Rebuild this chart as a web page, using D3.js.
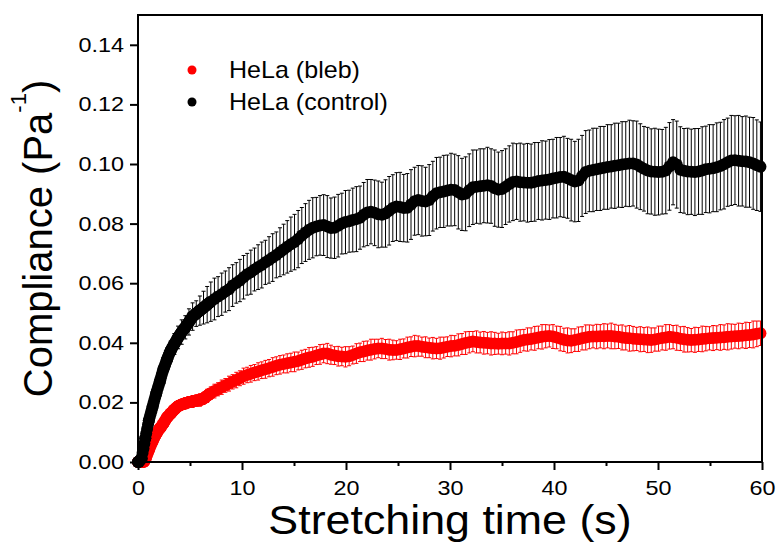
<!DOCTYPE html>
<html>
<head>
<meta charset="utf-8">
<script src="https://cdn.jsdelivr.net/npm/d3@7"></script>
<style>
  body { margin: 0; background: #fff; }
  text { font-family: Arial, "Liberation Sans", sans-serif; fill: #000; }
</style>
</head>
<body>
<div id="chart"></div>
<script>
"use strict";

// compliance (1/Pa) vs stretching time, one sample (with error bar) every 0.35 s
const timeStep = 0.35;
// the first 7 s are sampled more densely (symbols only)
const earlyStep = 0.0875;

const blebMean = [
  0, 0, 0.0008, 0.0040, 0.0070, 0.0094, 0.0113, 0.0130, 0.0150, 0.0163, 0.0176, 0.0187,
  0.0193, 0.0197, 0.0201, 0.0203, 0.0206, 0.0208, 0.0213, 0.0222, 0.0231, 0.0238, 0.0244, 0.0251,
  0.0257, 0.0263, 0.0269, 0.0275, 0.0281, 0.0288, 0.0292, 0.0296, 0.0300, 0.0304, 0.0308, 0.0311,
  0.0315, 0.0319, 0.0323, 0.0326, 0.0329, 0.0331, 0.0334, 0.0336, 0.0339, 0.0343, 0.0347, 0.0351,
  0.0353, 0.0357, 0.0361, 0.0364, 0.0364, 0.0360, 0.0357, 0.0355, 0.0354, 0.0353, 0.0355, 0.0359,
  0.0364, 0.0368, 0.0371, 0.0374, 0.0377, 0.0379, 0.0381, 0.0381, 0.0379, 0.0377, 0.0376, 0.0376,
  0.0378, 0.0381, 0.0384, 0.0387, 0.0389, 0.0389, 0.0387, 0.0385, 0.0383, 0.0382, 0.0381, 0.0382,
  0.0384, 0.0387, 0.0389, 0.0390, 0.0393, 0.0396, 0.0399, 0.0402, 0.0404, 0.0403, 0.0401, 0.0400,
  0.0399, 0.0398, 0.0398, 0.0397, 0.0398, 0.0398, 0.0398, 0.0400, 0.0403, 0.0406, 0.0409, 0.0411,
  0.0413, 0.0415, 0.0418, 0.0420, 0.0422, 0.0423, 0.0421, 0.0418, 0.0414, 0.0410, 0.0408, 0.0407,
  0.0409, 0.0412, 0.0415, 0.0418, 0.0420, 0.0421, 0.0421, 0.0422, 0.0422, 0.0423, 0.0423, 0.0421,
  0.0420, 0.0418, 0.0416, 0.0415, 0.0414, 0.0413, 0.0412, 0.0411, 0.0410, 0.0409, 0.0411, 0.0414,
  0.0416, 0.0418, 0.0420, 0.0419, 0.0417, 0.0414, 0.0412, 0.0410, 0.0409, 0.0410, 0.0411, 0.0413,
  0.0414, 0.0415, 0.0416, 0.0417, 0.0418, 0.0419, 0.0420, 0.0421, 0.0422, 0.0423, 0.0424, 0.0425,
  0.0426, 0.0428, 0.0430, 0.0432
];
const blebErr = [
  0, 0, 0.0005, 0.0010, 0.0013, 0.0015, 0.0014, 0.0016, 0.0015, 0.0017, 0.0016, 0.0018,
  0.0017, 0.0019, 0.0018, 0.0020, 0.0019, 0.0021, 0.0020, 0.0022, 0.0021, 0.0023, 0.0022, 0.0024,
  0.0023, 0.0025, 0.0024, 0.0026, 0.0025, 0.0027, 0.0026, 0.0028, 0.0027, 0.0029, 0.0028, 0.0030,
  0.0029, 0.0031, 0.0030, 0.0031, 0.0030, 0.0032, 0.0031, 0.0033, 0.0030, 0.0032, 0.0031, 0.0033,
  0.0032, 0.0030, 0.0033, 0.0031, 0.0034, 0.0032, 0.0030, 0.0033, 0.0031, 0.0034, 0.0032, 0.0030,
  0.0033, 0.0031, 0.0034, 0.0032, 0.0035, 0.0033, 0.0031, 0.0034, 0.0032, 0.0035, 0.0033, 0.0031,
  0.0034, 0.0032, 0.0035, 0.0033, 0.0036, 0.0034, 0.0032, 0.0035, 0.0033, 0.0036, 0.0034, 0.0037,
  0.0035, 0.0033, 0.0036, 0.0034, 0.0037, 0.0035, 0.0038, 0.0036, 0.0034, 0.0037, 0.0035, 0.0038,
  0.0036, 0.0039, 0.0037, 0.0035, 0.0038, 0.0036, 0.0039, 0.0037, 0.0040, 0.0038, 0.0036, 0.0039,
  0.0037, 0.0040, 0.0038, 0.0041, 0.0039, 0.0037, 0.0040, 0.0038, 0.0041, 0.0039, 0.0042, 0.0040,
  0.0038, 0.0041, 0.0039, 0.0042, 0.0040, 0.0038, 0.0041, 0.0039, 0.0042, 0.0040, 0.0043, 0.0041,
  0.0039, 0.0042, 0.0040, 0.0043, 0.0041, 0.0039, 0.0042, 0.0040, 0.0043, 0.0041, 0.0039, 0.0042,
  0.0040, 0.0043, 0.0041, 0.0039, 0.0042, 0.0040, 0.0043, 0.0041, 0.0039, 0.0042, 0.0040, 0.0043,
  0.0041, 0.0039, 0.0042, 0.0040, 0.0043, 0.0041, 0.0044, 0.0042, 0.0040, 0.0043, 0.0041, 0.0044,
  0.0042, 0.0045, 0.0043, 0.0041
];
const blebEarly = [
  0, 0, 0, 0, 0, 0, 0, 0.0002, 0.0008, 0.0015,
  0.0024, 0.0032, 0.0040, 0.0048, 0.0055, 0.0063, 0.0070, 0.0076, 0.0082, 0.0088,
  0.0094, 0.0099, 0.0104, 0.0109, 0.0113, 0.0117, 0.0121, 0.0126, 0.0130, 0.0135,
  0.0140, 0.0145, 0.0150, 0.0153, 0.0157, 0.0160, 0.0163, 0.0166, 0.0170, 0.0173,
  0.0176, 0.0179, 0.0182, 0.0185, 0.0187, 0.0189, 0.0190, 0.0192, 0.0193, 0.0194,
  0.0195, 0.0196, 0.0197, 0.0198, 0.0199, 0.0200, 0.0201, 0.0201, 0.0202, 0.0202,
  0.0203, 0.0204, 0.0205, 0.0205, 0.0206, 0.0206, 0.0207, 0.0207, 0.0208, 0.0209,
  0.0210, 0.0212, 0.0213, 0.0215, 0.0217, 0.0220, 0.0222, 0.0224, 0.0227, 0.0229
];

const controlMean = [
  0, 0.0012, 0.0080, 0.0140, 0.0185, 0.0230, 0.0270, 0.0312, 0.0345, 0.0375, 0.0396, 0.0418,
  0.0436, 0.0452, 0.0470, 0.0488, 0.0498, 0.0508, 0.0518, 0.0528, 0.0538, 0.0547, 0.0555, 0.0563,
  0.0572, 0.0580, 0.0592, 0.0601, 0.0609, 0.0620, 0.0630, 0.0637, 0.0646, 0.0654, 0.0661, 0.0670,
  0.0678, 0.0686, 0.0695, 0.0704, 0.0713, 0.0722, 0.0731, 0.0738, 0.0748, 0.0760, 0.0770, 0.0779,
  0.0786, 0.0790, 0.0794, 0.0795, 0.0790, 0.0785, 0.0786, 0.0793, 0.0800, 0.0805, 0.0808, 0.0812,
  0.0815, 0.0820, 0.0830, 0.0837, 0.0840, 0.0836, 0.0831, 0.0830, 0.0834, 0.0843, 0.0852, 0.0857,
  0.0856, 0.0852, 0.0853, 0.0864, 0.0875, 0.0879, 0.0876, 0.0874, 0.0879, 0.0892, 0.0902, 0.0905,
  0.0908, 0.0911, 0.0914, 0.0913, 0.0905, 0.0898, 0.0900, 0.0912, 0.0922, 0.0924, 0.0925, 0.0927,
  0.0929, 0.0926, 0.0919, 0.0914, 0.0916, 0.0924, 0.0933, 0.0940, 0.0941, 0.0939, 0.0938, 0.0937,
  0.0937, 0.0940, 0.0943, 0.0945, 0.0946, 0.0948, 0.0951, 0.0954, 0.0956, 0.0957, 0.0952, 0.0946,
  0.0941, 0.0945, 0.0960, 0.0973, 0.0977, 0.0980, 0.0982, 0.0985, 0.0987, 0.0990, 0.0992, 0.0994,
  0.0996, 0.0998, 0.1000, 0.1002, 0.1002, 0.0998, 0.0991, 0.0984, 0.0978, 0.0975, 0.0974, 0.0973,
  0.0974, 0.0978, 0.0992, 0.1006, 0.0998, 0.0981, 0.0977, 0.0975, 0.0974, 0.0973, 0.0975, 0.0978,
  0.0982, 0.0984, 0.0986, 0.0989, 0.0993, 0.0999, 0.1006, 0.1012, 0.1013, 0.1011, 0.1009, 0.1008,
  0.1006, 0.1002, 0.0996, 0.0991
];
const controlErr = [
  0, 0.0005, 0.0010, 0.0012, 0.0015, 0.0018, 0.0020, 0.0024, 0.0028, 0.0031, 0.0035, 0.0038,
  0.0041, 0.0039, 0.0044, 0.0046, 0.0043, 0.0049, 0.0055, 0.0061, 0.0066, 0.0070, 0.0067, 0.0071,
  0.0069, 0.0072, 0.0070, 0.0068, 0.0071, 0.0073, 0.0070, 0.0074, 0.0072, 0.0075, 0.0077, 0.0074,
  0.0078, 0.0080, 0.0077, 0.0082, 0.0085, 0.0088, 0.0091, 0.0093, 0.0096, 0.0094, 0.0097, 0.0099,
  0.0101, 0.0098, 0.0100, 0.0102, 0.0104, 0.0101, 0.0103, 0.0105, 0.0102, 0.0106, 0.0104, 0.0107,
  0.0109, 0.0106, 0.0108, 0.0111, 0.0108, 0.0110, 0.0112, 0.0109, 0.0113, 0.0115, 0.0112, 0.0114,
  0.0116, 0.0113, 0.0115, 0.0117, 0.0114, 0.0116, 0.0118, 0.0115, 0.0119, 0.0117, 0.0120, 0.0118,
  0.0121, 0.0119, 0.0122, 0.0120, 0.0123, 0.0121, 0.0124, 0.0122, 0.0125, 0.0123, 0.0126, 0.0124,
  0.0127, 0.0125, 0.0128, 0.0126, 0.0129, 0.0127, 0.0128, 0.0130, 0.0127, 0.0131, 0.0129, 0.0132,
  0.0130, 0.0132, 0.0129, 0.0133, 0.0131, 0.0134, 0.0132, 0.0135, 0.0133, 0.0136, 0.0134, 0.0137,
  0.0135, 0.0138, 0.0136, 0.0139, 0.0137, 0.0140, 0.0138, 0.0141, 0.0139, 0.0142, 0.0140, 0.0143,
  0.0141, 0.0144, 0.0142, 0.0145, 0.0143, 0.0146, 0.0144, 0.0142, 0.0145, 0.0143, 0.0146, 0.0144,
  0.0142, 0.0145, 0.0147, 0.0143, 0.0146, 0.0144, 0.0142, 0.0145, 0.0143, 0.0146, 0.0144, 0.0147,
  0.0145, 0.0148, 0.0146, 0.0149, 0.0147, 0.0150, 0.0148, 0.0151, 0.0149, 0.0152, 0.0150, 0.0153,
  0.0151, 0.0154, 0.0152, 0.0150
];
const controlEarly = [
  0, 0, 0.0004, 0.0009, 0.0012, 0.0030, 0.0045, 0.0062, 0.0080, 0.0096,
  0.0111, 0.0126, 0.0140, 0.0152, 0.0163, 0.0174, 0.0185, 0.0197, 0.0208, 0.0219,
  0.0230, 0.0241, 0.0251, 0.0260, 0.0270, 0.0281, 0.0292, 0.0302, 0.0312, 0.0320,
  0.0328, 0.0337, 0.0345, 0.0353, 0.0361, 0.0368, 0.0375, 0.0380, 0.0386, 0.0391,
  0.0396, 0.0402, 0.0407, 0.0413, 0.0418, 0.0423, 0.0427, 0.0432, 0.0436, 0.0440,
  0.0444, 0.0448, 0.0452, 0.0457, 0.0461, 0.0466, 0.0470, 0.0475, 0.0479, 0.0484,
  0.0488, 0.0491, 0.0493, 0.0496, 0.0498, 0.0501, 0.0503, 0.0506, 0.0508, 0.0511,
  0.0513, 0.0516, 0.0518, 0.0521, 0.0523, 0.0526, 0.0528, 0.0531, 0.0533, 0.0536
];

const seriesNames = ["HeLa (bleb)", "HeLa (control)"];
const xTicks = [0, 10, 20, 30, 40, 50, 60];
const xMinorTicks = [5, 15, 25, 35, 45, 55];
const yTicks = [0, 0.02, 0.04, 0.06, 0.08, 0.10, 0.12, 0.14];

const svgWidth = 776, svgHeight = 546;
const margin = { top: 15, right: 14, bottom: 84, left: 138 };

const svg = d3.select("#chart")
  .append("svg")
  .attr("width", svgWidth)
  .attr("height", svgHeight);

const xScale = d3.scaleLinear().domain([0, 60]).range([margin.left, svgWidth - margin.right]);
const yScale = d3.scaleLinear().domain([0, 0.15]).range([svgHeight - margin.bottom, margin.top]);

const series = [
  { name: seriesNames[0], color: "#ff0000", mean: blebMean, err: blebErr, early: blebEarly },
  { name: seriesNames[1], color: "#000000", mean: controlMean, err: controlErr, early: controlEarly }
];

// error bars + symbols, bleb first so control sits on top
series.forEach(s => {
  const pts = s.mean.map((m, i) => ({ t: i * timeStep, m: m, e: s.err[i] }));
  const earlyPts = s.early.map((m, i) => ({ t: i * earlyStep, m: m }));
  const g = svg.append("g");
  const bars = g.selectAll(".bar")
    .data(pts.filter(d => d.e > 0))
    .enter()
    .append("g")
    .attr("stroke", s.color)
    .attr("stroke-width", 1);
  bars.append("line")
    .attr("x1", d => xScale(d.t)).attr("x2", d => xScale(d.t))
    .attr("y1", d => yScale(d.m - d.e)).attr("y2", d => yScale(d.m + d.e));
  bars.append("line")
    .attr("x1", d => xScale(d.t) - 2).attr("x2", d => xScale(d.t) + 2)
    .attr("y1", d => yScale(d.m + d.e)).attr("y2", d => yScale(d.m + d.e));
  bars.append("line")
    .attr("x1", d => xScale(d.t) - 2).attr("x2", d => xScale(d.t) + 2)
    .attr("y1", d => yScale(d.m - d.e)).attr("y2", d => yScale(d.m - d.e));

  g.selectAll("circle")
    .data(earlyPts.concat(pts))
    .enter()
    .append("circle")
    .attr("cx", d => xScale(d.t))
    .attr("cy", d => yScale(d.m))
    .attr("r", 6)
    .attr("fill", s.color);
});

// axes
const plotBottom = svgHeight - margin.bottom;
const xAxis = d3.axisBottom(xScale).tickValues(xTicks).tickSize(8).tickPadding(11).tickFormat(d3.format("d"));
const xMinor = d3.axisBottom(xScale).tickValues(xMinorTicks).tickSize(4).tickFormat("");
const yAxis = d3.axisLeft(yScale).tickValues(yTicks).tickSize(8).tickPadding(4).tickFormat(d3.format(".2f"));

const gx = svg.append("g").attr("transform", `translate(0, ${plotBottom})`).call(xAxis);
const gxm = svg.append("g").attr("transform", `translate(0, ${plotBottom})`).call(xMinor);
const gy = svg.append("g").attr("transform", `translate(${margin.left}, 0)`).call(yAxis);

[gx, gxm, gy].forEach(g => {
  g.select(".domain").remove();
  g.selectAll("line").attr("stroke", "#000").attr("stroke-width", 2);
  g.selectAll("text")
    .attr("font-size", 20)
    .attr("font-family", "Arial, 'Liberation Sans', sans-serif")
    .attr("fill", "#000")
    .attr("transform", "scale(1.17,1)");
});

// frame
svg.append("rect")
  .attr("x", margin.left)
  .attr("y", margin.top)
  .attr("width", svgWidth - margin.right - margin.left)
  .attr("height", plotBottom - margin.top)
  .attr("fill", "none")
  .attr("stroke", "#000")
  .attr("stroke-width", 2);

// axis titles
svg.append("text")
  .attr("transform", `translate(${(margin.left + svgWidth - margin.right) / 2}, 534) scale(1.12,1)`)
  .attr("text-anchor", "middle")
  .attr("font-size", 40)
  .text("Stretching time (s)");

const yTitle = svg.append("text")
  .attr("transform", `translate(52, ${(margin.top + plotBottom) / 2}) rotate(-90)`)
  .attr("text-anchor", "middle")
  .attr("font-size", 40);
yTitle.append("tspan").text("Compliance (Pa");
yTitle.append("tspan").attr("font-size", 22).attr("dy", -26).text("-1");
yTitle.append("tspan").attr("dy", 26).text(")");

// legend
const legend = svg.append("g");
series.forEach((s, i) => {
  const cy = 70 + i * 32;
  legend.append("circle")
    .attr("cx", 192)
    .attr("cy", cy)
    .attr("r", 4.5)
    .attr("fill", s.color);
  legend.append("text")
    .attr("transform", `translate(229, ${cy + 7.5}) scale(1.09,1)`)
    .attr("font-size", 23)
    .text(s.name);
});
</script>
</body>
</html>
